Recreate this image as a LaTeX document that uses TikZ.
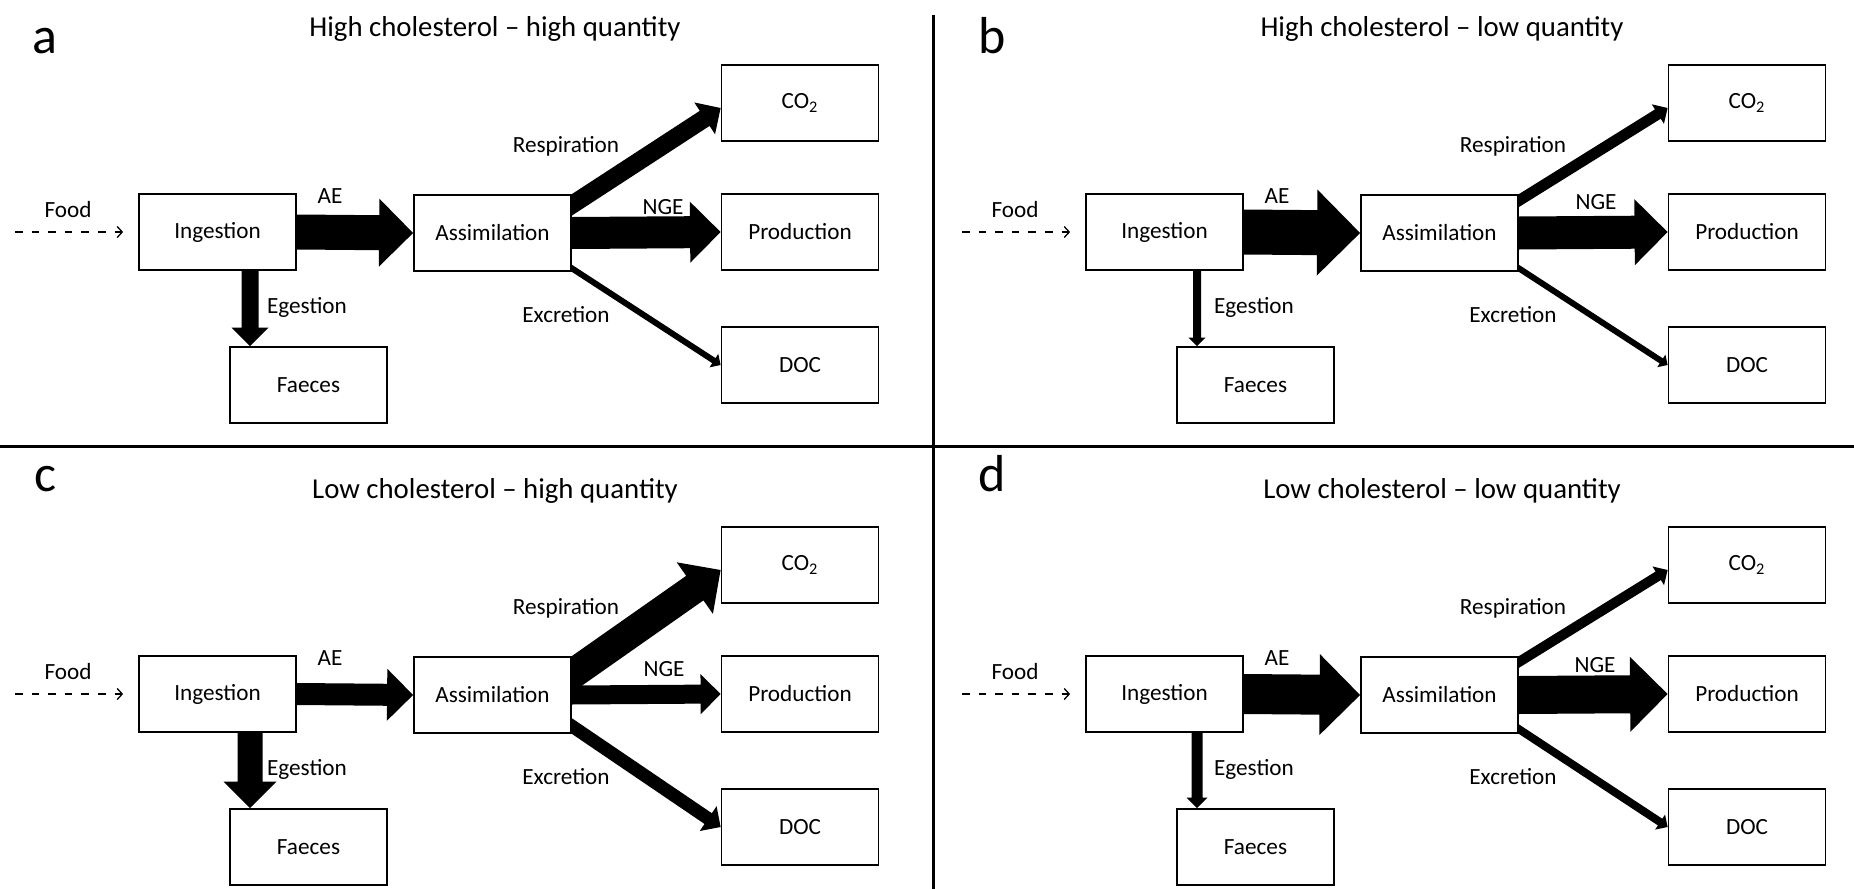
\documentclass[tikz,border=0pt]{standalone}
\usepackage{fontspec}
\setmainfont{Carlito}
\usetikzlibrary{calc,arrows.meta,backgrounds}

% block arrow: from, to, body width, head width (in px units)
\newcommand{\flowarrow}[4]{%
  \fill ($(#2)!{#4*0.25pt}!(#1)$) coordinate (hb)
     ($(#1)!{#3*0.25pt}!90:(#2)$) -- ($(hb)!{#3*0.25pt}!90:(#2)$)
     -- ($(hb)!{#4*0.25pt}!90:(#2)$) -- (#2)
     -- ($(hb)!{#4*0.25pt}!-90:(#2)$) -- ($(hb)!{#3*0.25pt}!-90:(#2)$)
     -- ($(#1)!{#3*0.25pt}!-90:(#2)$) -- cycle;%
}

\begin{document}
\begin{tikzpicture}
   [
      x=0.5pt, y=-0.5pt,
      box/.style={rectangle, draw, fill=white, line width=0.9pt, minimum width=78.5pt,
      minimum height=38pt, inner sep=0pt, font=\fontsize{11.6}{14}\selectfont},
      lab/.style={anchor=base, inner sep=0pt, font=\fontsize{11.6}{14}\selectfont},
      heading/.style={lab, font=\fontsize{14.4}{17}\selectfont},
      letter/.style={lab, font=\fontsize{26}{30}\selectfont},
      feed/.style={dash pattern=on 3.8pt off 4.5pt, line width=0.65pt,
      -{Straight Barb[length=2.5pt,width=5.5pt]}, shorten >=7.5pt}
   ]
   \useasboundingbox (0,0) rectangle (1854,889);

   \foreach \p/\dx/\dy/\ly/\ttl/\wae/\hae/\wng/\hng/\ngx/\ngy/\wrs/\hrs/\wex/\hex/\weg/\heg in {
      a/0/0/53/{High cholesterol – high quantity}/35/68/32/61/663/214/18/38/6/16/17/37,
      b/947/0/53/{High cholesterol – low quantity}/45/86/33/66/649/209/11/23/6/15/8/17,
      c/0/462/29/{Low cholesterol – high quantity}/22/52/19/40/664/214/30/63/13/30/25/53,
      d/947/462/29/{Low cholesterol – low quantity}/40/81/38/75/648/210/10/22/8/18/11/21} {
      \node[letter] (letter\p) at (\dx+45,\dy+\ly) {\p};
      \node[heading] (title\p) at (\dx+495,\dy+36) {\ttl};

      \node[box] (ingest\p) at (\dx+217.5,\dy+232) {Ingestion};
      \node[box] (assim\p) at (\dx+492.5,\dy+233) {Assimilation};
      \node[box] (co2\p) at (\dx+800,\dy+103) {CO\textsubscript{2}};
      \node[box] (prod\p) at (\dx+800,\dy+232) {Production};
      \node[box] (doc\p) at (\dx+800,\dy+365) {DOC};
      \node[box] (faeces\p) at (\dx+308.5,\dy+385) {Faeces};

      \node[lab] (foodlab\p) at (\dx+68,\dy+217) {Food};
      \node[lab] (aelab\p) at (\dx+330,\dy+203) {AE};
      \node[lab] (eglab\p) at (\dx+307,\dy+313) {Egestion};
      \node[lab] (reslab\p) at (\dx+566,\dy+152) {Respiration};
      \node[lab] (exlab\p) at (\dx+566,\dy+322) {Excretion};
      \node[lab] (ngelab\p) at (\dx+\ngx,\dy+\ngy) {NGE};

      \coordinate (food\p) at (\dx+15,\dy+232);
      \draw[feed] (food\p) -- (ingest\p);

      \coordinate (rt\p) at ($(co2\p.west)+(0,5)$);
      \coordinate (rb\p) at ($(assim\p.north east)!{\wrs*0.25pt}!-90:(rt\p)$);
      \coordinate (rs\p) at ($(rb\p)!-15pt!(rt\p)$);
      \coordinate (xb\p) at ($(assim\p.south east)!{\wex*0.25pt}!90:(doc\p.west)$);
      \coordinate (xs\p) at ($(xb\p)!-10pt!(doc\p.west)$);
      \coordinate (es\p) at ($(ingest\p.south)+(32.5,0)$);
      \coordinate (ee\p) at (es\p |- faeces\p.north);

      \begin{pgfonlayer}{background}
         \flowarrow{ingest\p.east}{assim\p.west}{\wae}{\hae}
         \flowarrow{assim\p.east}{prod\p.west}{\wng}{\hng}
         \flowarrow{rs\p}{rt\p}{\wrs}{\hrs}
         \flowarrow{xs\p}{doc\p.west}{\wex}{\hex}
         \flowarrow{es\p}{ee\p}{\weg}{\heg}
      \end{pgfonlayer}
   }

   % panel dividers
   \draw[line width=1.5pt] (0,446) -- (1854,446);
   \draw[line width=1.5pt] (933,15) -- (933,889);
\end{tikzpicture}
\end{document}
